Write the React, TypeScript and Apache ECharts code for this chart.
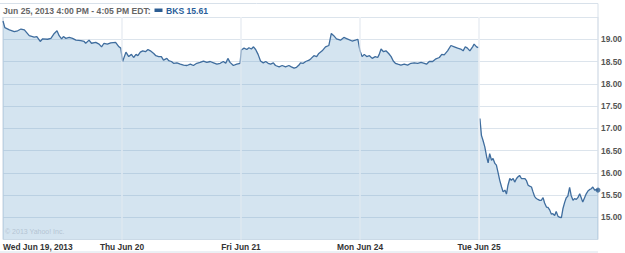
import React, { useEffect, useRef } from "react";
import * as echarts from "echarts";

const SESSION_MIN = 390;
const dayLabels = ["Wed Jun 19, 2013", "Thu Jun 20", "Fri Jun 21", "Mon Jun 24", "Tue Jun 25"];

// [minutes since 9:30, price]
const wed: [number, number][] = [
  [0, 19.41], [6, 19.26], [21, 19.21], [37, 19.17], [48, 19.19], [59, 19.23], [70, 19.21], [86, 19.08],
  [102, 19.05], [111, 19.06], [122, 18.95], [130, 19.01], [146, 19.0], [157, 19.02], [168, 19.13], [177, 19.19],
  [184, 19.08], [192, 19.01], [198, 19.06], [206, 19.02], [217, 19.04], [228, 19.02], [239, 18.98], [255, 18.97],
  [266, 18.95], [271, 18.91], [282, 18.98], [290, 18.91], [304, 18.93], [315, 18.89], [323, 18.83], [331, 18.91],
  [342, 18.89], [353, 18.92], [369, 18.93], [380, 18.83], [386, 18.8],
];
const thu: [number, number][] = [
  [2, 18.5], [13, 18.71], [22, 18.61], [31, 18.66], [38, 18.59], [46, 18.66], [52, 18.63], [60, 18.71],
  [68, 18.74], [77, 18.72], [85, 18.77], [93, 18.74], [104, 18.68], [111, 18.63], [120, 18.61], [129, 18.61],
  [136, 18.53], [147, 18.57], [153, 18.52], [162, 18.5], [169, 18.46], [180, 18.47], [191, 18.44], [202, 18.42],
  [213, 18.41], [224, 18.44], [234, 18.41], [245, 18.46], [256, 18.48], [267, 18.51], [278, 18.48], [289, 18.5],
  [300, 18.47], [311, 18.44], [322, 18.46], [332, 18.5], [340, 18.46], [347, 18.57], [354, 18.48], [365, 18.41],
  [376, 18.44], [387, 18.46],
];
const fri: [number, number][] = [
  [1, 18.76], [10, 18.8], [19, 18.77], [26, 18.81], [34, 18.78], [41, 18.83], [48, 18.77], [56, 18.66],
  [64, 18.51], [73, 18.47], [81, 18.5], [89, 18.46], [97, 18.44], [106, 18.47], [113, 18.41], [125, 18.38],
  [135, 18.41], [146, 18.38], [157, 18.41], [165, 18.38], [174, 18.35], [182, 18.37], [190, 18.42], [195, 18.47],
  [204, 18.46], [212, 18.5], [223, 18.53], [230, 18.57], [239, 18.63], [248, 18.61], [255, 18.68], [266, 18.74],
  [277, 18.83], [288, 18.86], [296, 19.13], [304, 19.08], [313, 19.01], [326, 18.98], [337, 19.04], [348, 19.01],
  [364, 18.96], [375, 18.98], [383, 19.0],
];
const mon: [number, number][] = [
  [0, 18.74], [7, 18.61], [14, 18.66], [22, 18.61], [31, 18.63], [40, 18.57], [50, 18.61], [58, 18.59],
  [63, 18.66], [69, 18.78], [77, 18.72], [85, 18.74], [94, 18.68], [102, 18.61], [109, 18.51], [116, 18.46],
  [124, 18.44], [134, 18.42], [145, 18.44], [156, 18.42], [167, 18.46], [178, 18.47], [189, 18.46], [200, 18.48],
  [211, 18.46], [218, 18.44], [227, 18.5], [238, 18.5], [249, 18.56], [260, 18.59], [268, 18.66], [276, 18.65],
  [287, 18.74], [298, 18.86], [309, 18.83], [320, 18.8], [330, 18.78], [338, 18.74], [345, 18.83], [352, 18.8],
  [360, 18.74], [369, 18.83], [374, 18.89], [382, 18.83], [388, 18.81],
];
const tue: [number, number][] = [
  [3, 17.22], [8, 16.84], [13, 16.73], [19, 16.58], [25, 16.36], [30, 16.22], [35, 16.43], [41, 16.28],
  [46, 16.32], [52, 16.21], [57, 16.17], [62, 16.02], [68, 15.83], [74, 15.68], [79, 15.57], [85, 15.61],
  [90, 15.52], [95, 15.72], [101, 15.87], [106, 15.83], [112, 15.87], [117, 15.79], [123, 15.87], [128, 15.91],
  [133, 15.94], [139, 15.87], [144, 15.87], [150, 15.87], [155, 15.83], [161, 15.72], [166, 15.7], [172, 15.68],
  [177, 15.57], [182, 15.47], [188, 15.42], [193, 15.4], [199, 15.38], [204, 15.38], [210, 15.44], [215, 15.32],
  [221, 15.23], [226, 15.22], [232, 15.16], [237, 15.07], [242, 15.08], [248, 15.04], [253, 15.13], [259, 15.02],
  [264, 15.0], [270, 14.99], [275, 15.19], [281, 15.34], [286, 15.44], [291, 15.47], [297, 15.67], [302, 15.49],
  [308, 15.38], [313, 15.42], [319, 15.4], [324, 15.44], [330, 15.53], [335, 15.44], [340, 15.34], [346, 15.44],
  [351, 15.52], [357, 15.59], [362, 15.62], [368, 15.64], [373, 15.68], [379, 15.61], [384, 15.62], [390, 15.61],
];

const days = [wed, thu, fri, mon, tue];
// the line is not drawn across the gap before these day indexes
const breakBefore = [4];
const headerText = "Jun 25, 2013 4:00 PM - 4:05 PM EDT:";
const legendText = "BKS 15.61";
const lastPrice = 15.61;

const FONT = '"Liberation Sans", Arial, sans-serif';

export default function App() {
  const ref = useRef<HTMLDivElement>(null);
  useEffect(() => {
    document.body.style.margin = "0";
    const chart = echarts.init(ref.current!, null, { renderer: "svg" });
    const data: any[] = [];
    days.forEach((d, i) => {
      if (breakBefore.includes(i)) data.push([i, null]);
      d.forEach(([m, v]) => data.push([i + m / SESSION_MIN, v]));
    });
    chart.setOption({
      animation: false,
      grid: { left: 2, right: 27, top: 17, bottom: 13.5, containLabel: false },
      xAxis: {
        type: "value",
        min: 0,
        max: days.length,
        interval: 1,
        axisLine: { show: false },
        axisTick: { show: false },
        splitLine: { show: true, lineStyle: { color: "#d8e1ea", width: 1.5 } },
        axisLabel: {
          formatter: (v: number) => dayLabels[Math.round(v)] ?? "",
          showMaxLabel: false,
          alignMinLabel: "left",
          margin: 3,
          fontSize: 8.4,
          fontWeight: "bold",
          color: "#333",
          fontFamily: FONT,
        },
      },
      yAxis: {
        type: "value",
        position: "right",
        min: 14.5,
        max: 19.5,
        interval: 0.5,
        axisLine: { show: false },
        axisTick: { show: false },
        splitLine: { show: true, lineStyle: { color: "#dce4ec", width: 1 } },
        axisLabel: {
          formatter: (v: number) => v.toFixed(2),
          showMinLabel: false,
          showMaxLabel: false,
          margin: 3,
          fontSize: 8.4,
          fontWeight: "bold",
          color: "#555",
          fontFamily: FONT,
        },
      },
      series: [
        {
          type: "line",
          data,
          showSymbol: false,
          symbol: "none",
          connectNulls: false,
          lineStyle: { color: "#3f6d9e", width: 1.3 },
          areaStyle: { color: "rgba(84,148,196,0.25)", opacity: 1, origin: "start" },
          emphasis: { disabled: true },
          markLine: {
            silent: true,
            symbol: ["none", "none"],
            label: { show: false },
            lineStyle: { color: "rgba(255,255,255,0.6)", width: 1.5, type: "solid" },
            data: [1, 2, 3, 4].map((x) => ({ xAxis: x })),
          },
        },
        {
          type: "scatter",
          data: [[days.length, lastPrice]],
          symbolSize: 5,
          itemStyle: { color: "#2f5f92" },
          z: 6,
          silent: true,
        },
      ],
      graphic: [
        {
          type: "polyline",
          shape: { points: [[0, 3.5], [598, 3.5], [598, 17]] },
          style: { stroke: "#d8e1ea", fill: null, lineWidth: 1 },
          silent: true,
        },
        {
          type: "line",
          shape: { x1: 0, y1: 252, x2: 598, y2: 252 },
          style: { stroke: "#d8e1ea", lineWidth: 1 },
          silent: true,
        },
        {
          type: "text",
          x: 3,
          y: 10.5,
          style: {
            text: headerText,
            fill: "#666",
            font: `bold 8.6px ${FONT}`,
            verticalAlign: "middle",
          },
          silent: true,
        },
        {
          type: "rect",
          shape: { x: 154.5, y: 8.5, width: 8, height: 3.5 },
          style: { fill: "#2c5d93" },
          silent: true,
        },
        {
          type: "text",
          x: 166,
          y: 10.5,
          style: {
            text: legendText,
            fill: "#2a5e9a",
            font: `bold 8.6px ${FONT}`,
            verticalAlign: "middle",
          },
          silent: true,
        },
        {
          type: "text",
          x: 5,
          y: 231.5,
          z: 10,
          style: {
            text: "© 2013 Yahoo! Inc.",
            fill: "#b4c5d4",
            font: `7px ${FONT}`,
            verticalAlign: "middle",
          },
          silent: true,
        },
      ],
    });
    return () => chart.dispose();
  }, []);
  return <div ref={ref} style={{ width: 625, height: 253 }} />;
}
